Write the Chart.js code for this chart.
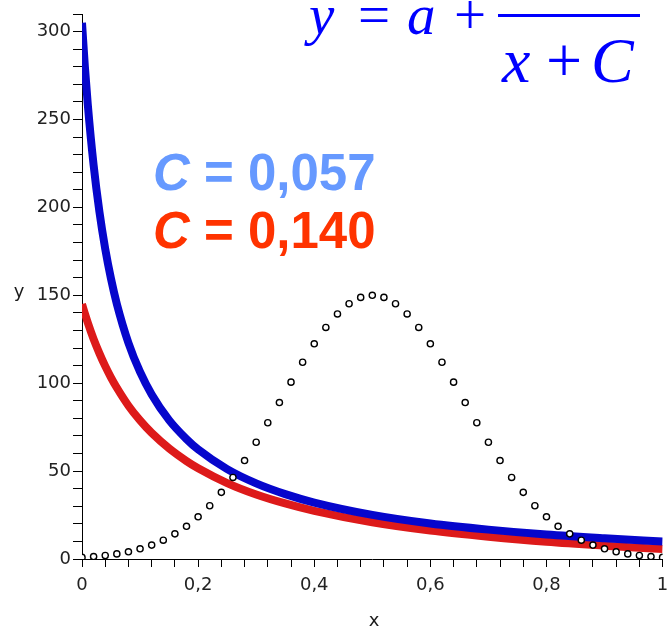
<!DOCTYPE html>
<html>
<head>
<meta charset="utf-8">
<script src="https://cdn.jsdelivr.net/npm/chart.js@4/dist/chart.umd.min.js"></script>
<style>
  html, body { margin: 0; padding: 0; background: #ffffff; overflow: hidden; }
  #wrap { position: relative; width: 668px; height: 629px; }
</style>
</head>
<body>
<div id="wrap"><canvas id="c" width="668" height="629"></canvas></div>
<script>
// ---- data ----
const curveX = [0, 0.005, 0.01, 0.02, 0.03, 0.04, 0.05, 0.06, 0.08, 0.10, 0.12, 0.15, 0.18, 0.20, 0.25, 0.30, 0.35, 0.40, 0.50, 0.60, 0.70, 0.80, 0.90, 1.00];
const blueY  = [305, 279.8, 258.4, 224.0, 197.5, 176.4, 159.3, 145.1, 122.9, 106.4, 93.6, 79.0, 68.2, 62.3, 51.1, 43.0, 36.9, 32.1, 25.1, 20.2, 16.7, 13.9, 11.8, 10.0];
const redY   = [145, 139.5, 134.4, 125.1, 117.0, 109.7, 103.2, 97.4, 87.2, 78.8, 71.7, 62.9, 55.7, 51.6, 43.2, 36.7, 31.6, 27.4, 20.9, 16.2, 12.7, 9.8, 7.6, 5.7];

const dotX = [0, 0.02, 0.04, 0.06, 0.08, 0.10, 0.12, 0.14, 0.16, 0.18, 0.20, 0.22, 0.24, 0.26, 0.28, 0.30, 0.32, 0.34, 0.36, 0.38, 0.40, 0.42, 0.44, 0.46, 0.48, 0.50,
              0.52, 0.54, 0.56, 0.58, 0.60, 0.62, 0.64, 0.66, 0.68, 0.70, 0.72, 0.74, 0.76, 0.78, 0.80, 0.82, 0.84, 0.86, 0.88, 0.90, 0.92, 0.94, 0.96, 0.98, 1.00];
const dotY = [0.9, 1.4, 2.0, 2.9, 4.1, 5.8, 7.9, 10.7, 14.3, 18.6, 24.0, 30.3, 37.9, 46.4, 56.0, 66.4, 77.5, 89.0, 100.6, 111.9, 122.4, 131.7, 139.4, 145.2, 148.8, 150,
              148.8, 145.2, 139.4, 131.7, 122.4, 111.9, 100.6, 89.0, 77.5, 66.4, 56.0, 46.4, 37.9, 30.3, 24.0, 18.6, 14.3, 10.7, 7.9, 5.8, 4.1, 2.9, 2.0, 1.4, 0.9];

const xMajorLabels = ['0', '0,2', '0,4', '0,6', '0,8', '1'];
const yMajorLabels = ['0', '50', '100', '150', '200', '250', '300'];

const xTitle = 'x';
const yTitle = 'y';
const blueLabel = ' = 0,057';
const redLabel = ' = 0,140';

// ---- build datasets ----
const pts = (xs, ys) => xs.map((x, i) => ({ x: x, y: ys[i] }));

const textPlugin = {
  id: 'texts',
  afterDraw(chart) {
    const ctx = chart.ctx;
    ctx.save();
    // axis titles
    ctx.fillStyle = '#1a1a1a';
    ctx.font = '18px "DejaVu Sans"';
    ctx.textAlign = 'center';
    ctx.textBaseline = 'middle';
    ctx.fillText(yTitle, 19, 292);
    ctx.fillText(xTitle, 374, 621);

    // formula  y = a + ----- / x + C
    ctx.fillStyle = '#0000ff';
    ctx.textAlign = 'left';
    ctx.textBaseline = 'alphabetic';
    ctx.font = 'italic 57px "Liberation Serif"';
    ctx.fillText('y', 309, 34);
    ctx.font = '57px "Liberation Serif"';
    ctx.fillText('=', 358, 34);
    ctx.font = 'italic 57px "Liberation Serif"';
    ctx.fillText('a', 407, 34);
    ctx.font = '57px "Liberation Serif"';
    ctx.fillText('+', 454, 34);
    ctx.fillRect(498, 14, 142, 3);
    ctx.font = 'italic 64px "Liberation Serif"';
    ctx.fillText('x', 502, 82);
    ctx.font = '64px "Liberation Serif"';
    ctx.fillText('+', 546, 82);
    ctx.font = 'italic 64px "Liberation Serif"';
    ctx.fillText('C', 591, 82);

    // C values
    const drawC = (rest, color, y) => {
      ctx.fillStyle = color;
      ctx.font = 'italic bold 51px "Liberation Sans"';
      ctx.fillText('C', 153, y);
      const w = ctx.measureText('C').width;
      ctx.font = 'bold 51px "Liberation Sans"';
      ctx.fillText(rest, 153 + w, y);
    };
    drawC(blueLabel, '#6699ff', 190);
    drawC(redLabel, '#ff3300', 248);
    ctx.restore();
  }
};

const tickFont = { family: '"DejaVu Sans"', size: 18 };

new Chart(document.getElementById('c'), {
  type: 'scatter',
  data: {
    datasets: [
      {
        label: 'points',
        data: pts(dotX, dotY),
        showLine: false,
        pointRadius: 3.1,
        pointBorderWidth: 1.4,
        pointBorderColor: '#000000',
        pointBackgroundColor: '#ffffff'
      },
      {
        label: 'C = 0,057',
        data: pts(curveX, blueY),
        showLine: true,
        borderColor: '#0606cc',
        borderWidth: 8,
        pointRadius: 0,
        cubicInterpolationMode: 'monotone',
        fill: false
      },
      {
        label: 'C = 0,140',
        data: pts(curveX, redY),
        showLine: true,
        borderColor: '#dd1a1a',
        borderWidth: 8,
        pointRadius: 0,
        cubicInterpolationMode: 'monotone',
        fill: false
      }
    ]
  },
  options: {
    responsive: false,
    animation: false,
    devicePixelRatio: 1,
    layout: { padding: { top: 14, left: 0, right: 0, bottom: 0 } },
    plugins: { legend: { display: false }, tooltip: { enabled: false } },
    scales: {
      x: {
        type: 'linear',
        min: 0, max: 1,
        afterFit(scale) { scale.height = 70; scale.paddingRight = 4; },
        border: { display: true, color: '#000000', width: 1 },
        grid: { drawOnChartArea: false, drawTicks: true, tickLength: 8, tickColor: '#000000', tickWidth: 1 },
        ticks: {
          stepSize: 0.04,
          autoSkip: false,
          maxRotation: 0,
          padding: 8,
          color: '#222222',
          font: tickFont,
          callback(v) {
            const k = Math.round(v * 100);
            return (k % 20 === 0) ? xMajorLabels[k / 20] : '';
          }
        }
      },
      y: {
        type: 'linear',
        min: 0, max: 310,
        afterFit(scale) { scale.width = 82; },
        border: { display: true, color: '#000000', width: 1 },
        grid: { drawOnChartArea: false, drawTicks: true, tickLength: 9, tickColor: '#000000', tickWidth: 1 },
        ticks: {
          stepSize: 10,
          autoSkip: false,
          padding: 2,
          color: '#222222',
          font: tickFont,
          callback(v) {
            const k = Math.round(v);
            return (k % 50 === 0) ? yMajorLabels[k / 50] : '';
          }
        }
      }
    }
  },
  plugins: [textPlugin]
});
</script>
</body>
</html>
